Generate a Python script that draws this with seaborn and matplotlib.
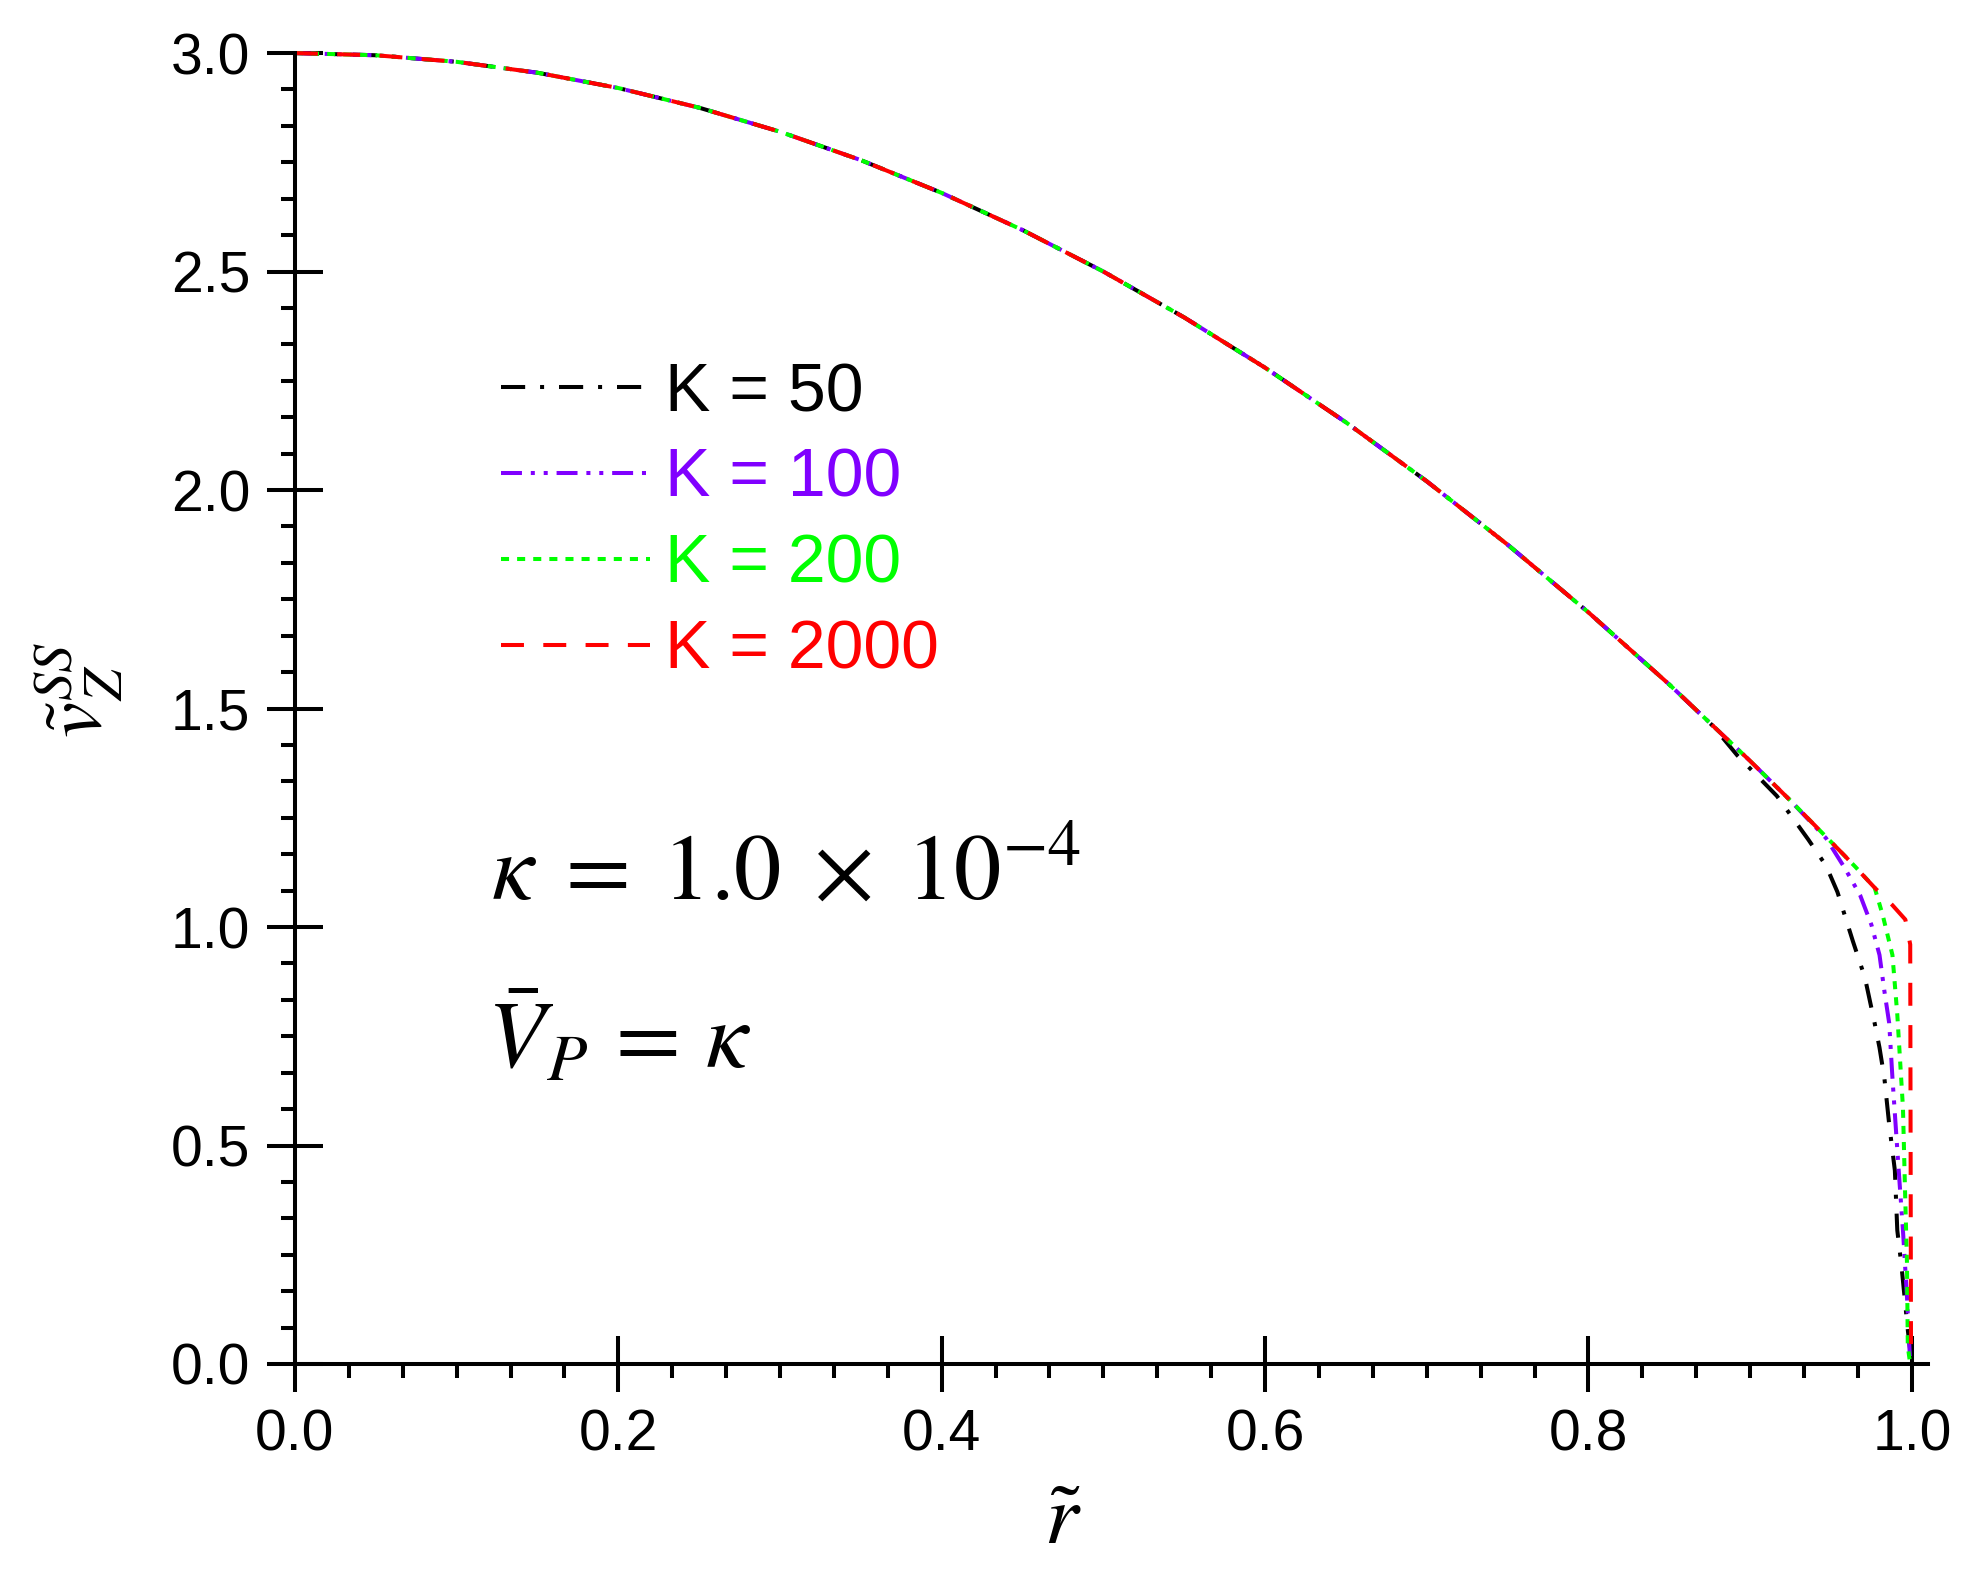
import matplotlib
matplotlib.use("Agg")
import matplotlib.pyplot as plt
from matplotlib.ticker import MultipleLocator, FormatStrFormatter
import seaborn as sns
import pandas as pd

# perfil comun (todas las curvas coinciden lejos de la pared)
r_core = [0.0, 0.05, 0.1, 0.15, 0.2, 0.25, 0.3, 0.35, 0.4, 0.45, 0.5,
          0.55, 0.6, 0.65, 0.7, 0.75, 0.8, 0.85]
v_core = [3.0, 2.995, 2.98, 2.955, 2.92, 2.875, 2.82, 2.755, 2.68, 2.595, 2.50,
          2.395, 2.28, 2.155, 2.02, 1.875, 1.72, 1.555]

# tramos cerca de la pared, uno por K
r_k50 = [0.877, 0.892, 0.9165, 0.936, 0.947, 0.954, 0.9635, 0.971, 0.977, 0.980,
         0.983, 0.986, 0.9895, 0.991, 0.9935, 0.9955, 0.9975, 1.0]
v_k50 = [1.46, 1.393, 1.30, 1.20, 1.14, 1.08, 0.968, 0.884, 0.78, 0.724,
         0.655, 0.548, 0.443, 0.306, 0.228, 0.153, 0.078, 0.0]

r_k100 = [0.9, 0.925, 0.947, 0.9585, 0.968, 0.975, 0.980, 0.983, 0.986,
          0.988, 0.9905, 0.9925, 0.9945, 0.997, 0.999]
v_k100 = [1.38, 1.289, 1.203, 1.135, 1.073, 1.005, 0.936, 0.854, 0.78,
          0.655, 0.518, 0.41, 0.306, 0.153, 0.0]

r_k200 = [0.9, 0.925, 0.95, 0.965, 0.977, 0.982, 0.988, 0.991, 0.9945,
          0.9957, 0.997, 0.9975, 0.999]
v_k200 = [1.38, 1.289, 1.195, 1.138, 1.09, 1.027, 0.936, 0.80, 0.587,
          0.41, 0.23, 0.04, 0.0]

r_k2000 = [0.9, 0.925, 0.95, 0.9585, 0.977, 0.988, 0.996, 0.999, 0.9995]
v_k2000 = [1.38, 1.289, 1.195, 1.163, 1.09, 1.05, 1.017, 0.96, 0.0]

labels = ["K = 50", "K = 100", "K = 200", "K = 2000"]
colors = ["#000000", "#8000FF", "#00FF00", "#FF0000"]
tails = [(r_k50, v_k50), (r_k100, v_k100), (r_k200, v_k200), (r_k2000, v_k2000)]

dfs = []
for lab, (rt, vt) in zip(labels, tails):
    dfs.append(pd.DataFrame({"r": r_core + rt, "v": v_core + vt, "K": lab}))
data = pd.concat(dfs, ignore_index=True)

sns.set_style("ticks")
plt.rcParams["font.family"] = ["Liberation Sans", "DejaVu Sans"]
plt.rcParams["mathtext.fontset"] = "stix"

fig = plt.figure(figsize=(19.86, 15.89), dpi=100)
ax = fig.add_axes([0.1485, 0.1416, 0.8223, 0.825])

dashes = {
    "K = 50": (6, 3.7, 1, 3.7),
    "K = 100": (5.2, 2.2, 1, 2.2, 1, 2.2),
    "K = 200": (2, 2),
    "K = 2000": (5.7, 4.8),
}
sns.lineplot(data=data, x="r", y="v", hue="K", style="K",
             palette=dict(zip(labels, colors)), dashes=dashes,
             sort=False, estimator=None, linewidth=2.9, ax=ax)
for ln in ax.lines:
    ln.set_clip_on(False)

ax.set_xlim(0, 1.01)
ax.set_ylim(0, 3.0)
ax.xaxis.set_major_locator(MultipleLocator(0.2))
ax.xaxis.set_minor_locator(MultipleLocator(0.2 / 6))
ax.yaxis.set_major_locator(MultipleLocator(0.5))
ax.yaxis.set_minor_locator(MultipleLocator(0.5 / 6))
ax.xaxis.set_major_formatter(FormatStrFormatter("%.1f"))
ax.yaxis.set_major_formatter(FormatStrFormatter("%.1f"))
ax.tick_params(which="major", direction="inout", length=40, width=2.9,
               labelsize=41, pad=12, color="black", labelcolor="black")
ax.tick_params(which="minor", direction="out", length=10, width=2.9,
               color="black")
for s in ["top", "right"]:
    ax.spines[s].set_visible(False)
for s in ["left", "bottom"]:
    ax.spines[s].set_linewidth(2.9)
    ax.spines[s].set_color("black")

ax.set_xlabel(r"$\tilde{r}$", fontsize=62, color="black")
ax.set_ylabel(r"$\tilde{v}_{Z}^{SS}$", fontsize=58, color="black")
ax.xaxis.set_label_coords(0.470, -0.09)
ax.yaxis.set_label_coords(-0.104, 0.514)

handles, labs = ax.get_legend_handles_labels()
ax.legend(handles, labs, loc="upper left", bbox_to_anchor=(0.126, 0.765),
          frameon=False, fontsize=49, handlelength=2.2, handletextpad=0.22,
          labelspacing=0.32, borderpad=0, borderaxespad=0,
          labelcolor="linecolor")

ax.text(0.121, 1.064, r"$\kappa\;=\;1.0\;\times\;10^{-4}$", fontsize=68,
        va="baseline", ha="left", color="black")
ax.text(0.119, 0.677, r"$\bar{V}_{P}\,=\,\kappa$", fontsize=68,
        va="baseline", ha="left", color="black")

fig.savefig("out.png", dpi=100)
